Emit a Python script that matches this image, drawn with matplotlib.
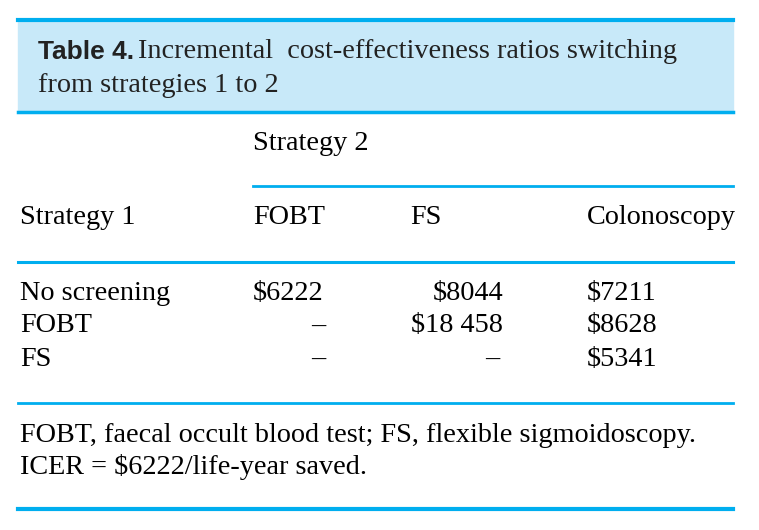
import matplotlib.pyplot as plt

# table content
title_bold = "Table 4."
title_rest = ["Incremental  cost-effectiveness ratios switching", "from strategies 1 to 2"]
group_label = "Strategy 2"
row_header = "Strategy 1"
col_labels = ["FOBT", "FS", "Colonoscopy"]
row_labels = ["No screening", "FOBT", "FS"]
fobt_vals = ["$6222", "–", "–"]
fs_vals = ["$8044", "$18 458", "–"]
colo_vals = ["$7211", "$8628", "$5341"]
footnotes = ["FOBT, faecal occult blood test; FS, flexible sigmoidoscopy.",
             "ICER = $6222/life-year saved."]

blue = "#00aeef"
pale = "#c8e9f9"
serif = "Liberation Serif"
fs = 20.3

fig = plt.figure(figsize=(7.59, 5.30), dpi=100)
ax = fig.add_axes([0, 0, 1, 1])
ax.set_xlim(0, 759)
ax.set_ylim(530, 0)
ax.axis("off")

# title box
ax.add_patch(plt.Rectangle((18, 20), 715, 92, color=pale, zorder=0))
ax.plot([18, 733], [20, 20], color=blue, lw=3)
ax.plot([18, 733], [112, 112], color=blue, lw=2.5)
ax.text(38, 52, title_bold, fontsize=19, family="Liberation Sans",
        weight="bold", va="center", color="#222222")
ax.text(138, 52, title_rest[0], fontsize=fs, family=serif, va="center", color="#222222")
ax.text(38, 85, title_rest[1], fontsize=fs, family=serif, va="center", color="#222222")

# header
ax.text(253, 143, group_label, fontsize=fs, family=serif, va="center")
ax.plot([253, 733], [186, 186], color=blue, lw=2)
ax.text(20, 218, row_header, fontsize=fs, family=serif, va="center")
col_x = [253, 410, 587]
for x, lab in zip(col_x, col_labels):
    ax.text(x, 218, lab, fontsize=fs, family=serif, va="center")
ax.plot([18, 733], [262, 262], color=blue, lw=2.2)

# body
row_y = [293, 326, 359]
for y, lab, a, b, c in zip(row_y, row_labels, fobt_vals, fs_vals, colo_vals):
    ax.text(20, y, lab, fontsize=fs, family=serif, va="center")
    if a == "–":
        ax.text(318, y, a, fontsize=fs, family=serif, va="center", ha="center")
    else:
        ax.text(253, y, a, fontsize=fs, family=serif, va="center")
    if b == "–":
        ax.text(492, y, b, fontsize=fs, family=serif, va="center", ha="center")
    else:
        ax.text(503, y, b, fontsize=fs, family=serif, va="center", ha="right")
    ax.text(587, y, c, fontsize=fs, family=serif, va="center")

ax.plot([18, 733], [403, 403], color=blue, lw=2)
ax.text(20, 435, footnotes[0], fontsize=fs, family=serif, va="center")
ax.text(20, 467, footnotes[1], fontsize=fs, family=serif, va="center")
ax.plot([18, 733], [509, 509], color=blue, lw=3)

fig.savefig("out.png", dpi=100)
